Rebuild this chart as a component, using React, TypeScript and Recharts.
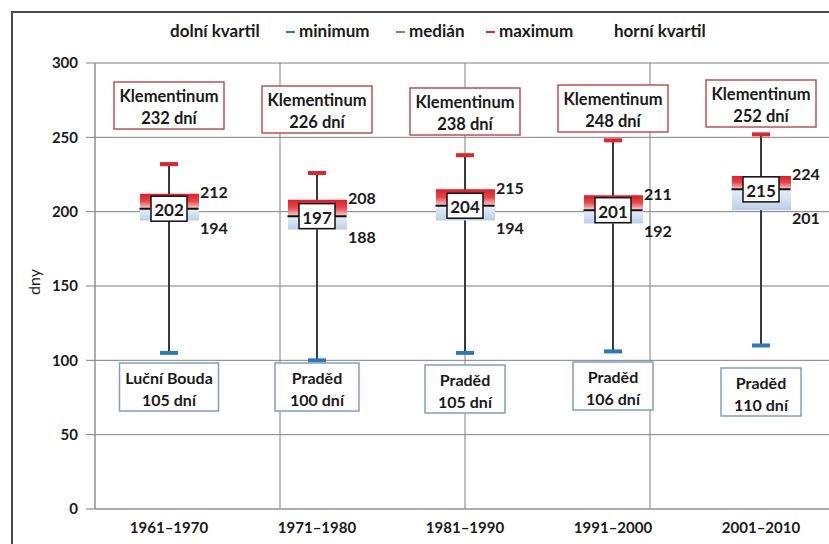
import React from 'react';
import { ComposedChart, Bar, Line, XAxis, YAxis, CartesianGrid, Legend } from 'recharts';

// ---------- data ----------
const periods = ['1961–1970', '1971–1980', '1981–1990', '1991–2000', '2001–2010'];
const minimum = [105, 100, 105, 106, 110];
const lowerQuartile = [194, 188, 194, 192, 201];
const medianValues = [202, 197, 204, 201, 215];
const upperQuartile = [212, 208, 215, 211, 224];
const maximum = [232, 226, 238, 248, 252];
const maxStations = ['Klementinum', 'Klementinum', 'Klementinum', 'Klementinum', 'Klementinum'];
const minStations = ['Luční Bouda', 'Praděd', 'Praděd', 'Praděd', 'Praděd'];
const yTicks = [0, 50, 100, 150, 200, 250, 300];
const gridTicks = [0, 1, 2, 3, 4, 5];
const legendLabels = ['dolní kvartil', 'minimum', 'medián', 'maximum', 'horní kvartil'];

const data = periods.map((period, i) => ({
  idx: i,
  period,
  min: minimum[i],
  q1: lowerQuartile[i],
  median: medianValues[i],
  q3: upperQuartile[i],
  max: maximum[i],
  base: lowerQuartile[i],
  lower: medianValues[i] - lowerQuartile[i],
  upper: upperQuartile[i] - medianValues[i],
  range: [minimum[i], maximum[i]],
  maxStation: maxStations[i],
  minStation: minStations[i],
}));

// ---------- layout / style ----------
const FONT = 'Lato, "Open Sans", "DejaVu Sans", sans-serif';
const TEXT = '#1a1a1a';
const RED = '#e3242b';
const BLUE = '#2a7ab8';
const GRID = '#808080';
const topBoxTop = [82, 86, 88, 85, 80];
const topBoxW = 110;
const topBoxH = 47;
const bottomBoxTop = [363, 363, 365, 362, 368];
const bottomBoxW = [99, 84, 80, 80, 80];
const bottomBoxH = 48;
const legendPos = [170, 286, 396, 486, 614];
const legendDash = [null, BLUE, '#7f7f7f', RED, null];

const MaxDot = (p: any) => {
  const { cx, cy, payload } = p;
  const i = payload.idx;
  const top = topBoxTop[i];
  return (
    <g key={`max-${i}`}>
      <line x1={cx - 9} x2={cx + 9} y1={cy} y2={cy} stroke={RED} strokeWidth={4} />
      <rect x={cx - topBoxW / 2} y={top} width={topBoxW} height={topBoxH} fill="#fff" stroke="#c0504d" strokeWidth={1.5} />
      <text x={cx} y={top + 14} textAnchor="middle" dominantBaseline="central" fontSize={16.5} fontWeight={700} fill={TEXT} fontFamily={FONT}>
        {payload.maxStation}
      </text>
      <text x={cx} y={top + 36} textAnchor="middle" dominantBaseline="central" fontSize={16.5} fontWeight={700} fill={TEXT} fontFamily={FONT}>
        {`${payload.max} dní`}
      </text>
    </g>
  );
};

const MinDot = (p: any) => {
  const { cx, cy, payload } = p;
  const i = payload.idx;
  const top = bottomBoxTop[i];
  const w = bottomBoxW[i];
  return (
    <g key={`min-${i}`}>
      <line x1={cx - 9} x2={cx + 9} y1={cy} y2={cy} stroke={BLUE} strokeWidth={4} />
      <rect x={cx - w / 2} y={top} width={w} height={bottomBoxH} fill="#fff" stroke="#7e9ec6" strokeWidth={1.5} />
      <text x={cx} y={top + 14} textAnchor="middle" dominantBaseline="central" fontSize={16} fontWeight={700} fill={TEXT} fontFamily={FONT}>
        {payload.minStation}
      </text>
      <text x={cx} y={top + 36} textAnchor="middle" dominantBaseline="central" fontSize={16} fontWeight={700} fill={TEXT} fontFamily={FONT}>
        {`${payload.min} dní`}
      </text>
    </g>
  );
};

const MedianDot = (p: any) => {
  const { cx, cy, payload } = p;
  return (
    <g key={`med-${payload.idx}`}>
      <line x1={cx - 29.5} x2={cx + 29.5} y1={cy} y2={cy} stroke="#111" strokeWidth={2} />
      <rect x={cx - 18} y={cy - 12.5} width={36} height={25} fill="#fff" stroke="#111" strokeWidth={1.5} />
      <text x={cx} y={cy + 1} textAnchor="middle" dominantBaseline="central" fontSize={17} fontWeight={700} fill={TEXT} fontFamily={FONT}>
        {payload.median}
      </text>
    </g>
  );
};

const Q3Dot = (p: any) => {
  const { cx, cy, payload } = p;
  return (
    <text key={`q3-${payload.idx}`} x={cx + 31} y={cy - 2} dominantBaseline="central" fontSize={16} fontWeight={700} fill={TEXT} fontFamily={FONT}>
      {payload.q3}
    </text>
  );
};

const Q1Dot = (p: any) => {
  const { cx, cy, payload } = p;
  return (
    <text key={`q1-${payload.idx}`} x={cx + 31} y={cy + 7} dominantBaseline="central" fontSize={16} fontWeight={700} fill={TEXT} fontFamily={FONT}>
      {payload.q1}
    </text>
  );
};

const LegendContent = () => (
  <div style={{ position: 'relative', height: 44, fontFamily: FONT, fontSize: 17, fontWeight: 700, color: TEXT }}>
    {legendLabels.map((label, i) => (
      <div key={label} style={{ position: 'absolute', left: legendPos[i], top: 0, lineHeight: '24px', whiteSpace: 'nowrap' }}>
        {legendDash[i] && (
          <span style={{ display: 'inline-block', width: 9, height: 2, background: legendDash[i] as string, verticalAlign: 'middle', marginRight: 4, marginBottom: 2 }} />
        )}
        {label}
      </div>
    ))}
  </div>
);

const YLabel = (props: any) => {
  const vb = props.viewBox || { x: 20, y: 63, width: 75, height: 446 };
  const x = vb.x + 13;
  const y = vb.y + vb.height / 2 - 4;
  return (
    <text x={x} y={y} transform={`rotate(-90 ${x} ${y})`} textAnchor="middle" dominantBaseline="central" fontSize={16} fill={TEXT} fontFamily={FONT}>
      dny
    </text>
  );
};

export default function App() {
  return (
    <div style={{ position: 'fixed', left: 0, top: 0, width: 829, height: 544, overflow: 'hidden', background: '#fff', fontFamily: FONT }}>
      <div style={{ position: 'absolute', left: 11, top: 11, width: 1000, height: 1000, borderLeft: '2px solid #4a4a4a', borderTop: '2px solid #4a4a4a' }} />
      <div style={{ position: 'absolute', left: 0, top: 0 }}>
        <ComposedChart width={860} height={560} data={data} margin={{ top: 19, right: 25, left: 20, bottom: 21 }}>
          <defs>
            <linearGradient id="gUp" x1="0" y1="0" x2="0" y2="1">
              <stop offset="0" stopColor="#e01b22" />
              <stop offset="0.5" stopColor="#e9474d" />
              <stop offset="1" stopColor="#f8d3d3" />
            </linearGradient>
            <linearGradient id="gLow" x1="0" y1="0" x2="0" y2="1">
              <stop offset="0" stopColor="#e9f0f9" />
              <stop offset="1" stopColor="#b9cfe9" />
            </linearGradient>
          </defs>
          <Legend verticalAlign="top" content={<LegendContent />} wrapperStyle={{ left: 0, top: 19, width: 860 }} />
          <XAxis xAxisId="g" type="number" domain={[0, 5]} ticks={gridTicks} allowDataOverflow hide />
          <XAxis xAxisId="w" dataKey="period" hide />
          <CartesianGrid xAxisId="g" stroke={GRID} strokeWidth={1} />
          <XAxis
            dataKey="period"
            tickLine={false}
            axisLine={{ stroke: '#9a9a9a' }}
            tickMargin={7}
            height={30}
            tick={{ fontSize: 15, fontWeight: 700, fill: TEXT, fontFamily: FONT }}
          />
          <YAxis
            domain={[0, 300]}
            ticks={yTicks}
            width={75}
            tickSize={9}
            tickMargin={8}
            tickLine={{ stroke: GRID }}
            axisLine={{ stroke: '#9a9a9a' }}
            tick={{ fontSize: 15, fontWeight: 700, fill: TEXT, fontFamily: FONT }}
            label={<YLabel />}
          />
          <Bar xAxisId="w" dataKey="range" barSize={2} fill="#3a3a3a" isAnimationActive={false} legendType="none" />
          <Bar dataKey="base" stackId="box" barSize={59} fill="transparent" isAnimationActive={false} legendType="none" />
          <Bar dataKey="lower" stackId="box" barSize={59} fill="url(#gLow)" isAnimationActive={false} legendType="none" />
          <Bar dataKey="upper" stackId="box" barSize={59} fill="url(#gUp)" isAnimationActive={false} legendType="none" />
          <Line dataKey="q3" stroke="none" dot={Q3Dot} activeDot={false} isAnimationActive={false} legendType="none" />
          <Line dataKey="q1" stroke="none" dot={Q1Dot} activeDot={false} isAnimationActive={false} legendType="none" />
          <Line dataKey="max" stroke="none" dot={MaxDot} activeDot={false} isAnimationActive={false} legendType="none" />
          <Line dataKey="min" stroke="none" dot={MinDot} activeDot={false} isAnimationActive={false} legendType="none" />
          <Line dataKey="median" stroke="none" dot={MedianDot} activeDot={false} isAnimationActive={false} legendType="none" />
        </ComposedChart>
      </div>
    </div>
  );
}
